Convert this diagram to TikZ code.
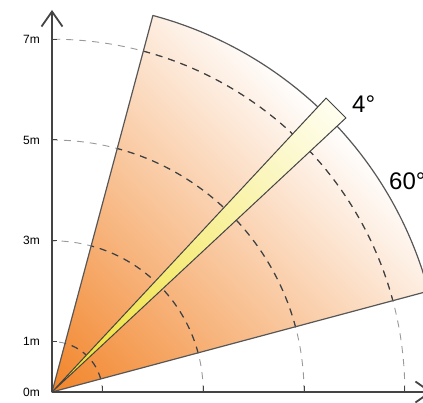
\documentclass[tikz,border=0pt]{standalone}
\usepackage{fontspec}
\setmainfont{Liberation Sans}
\usetikzlibrary{arrows.meta}
\definecolor{axisgray}{HTML}{444444}
\definecolor{orangeA}{HTML}{F28429}
\definecolor{orangeM}{HTML}{F8B888}
\definecolor{beamY}{HTML}{EEDD22}
\definecolor{beamM}{HTML}{FBF49A}
\definecolor{beamP}{HTML}{FFFEF0}
\tikzset{
  axisline/.style={draw=axisgray, line width=1.8pt, -{Straight Barb[length=15pt,width=21pt,line width=1.8pt]}},
  gridarc/.style={dashed, dash pattern=on 7pt off 6pt},
  axislabel/.style={anchor=east, font=\fontsize{12}{14}\selectfont, text=black, inner sep=0pt},
  biglabel/.style={anchor=base west, font=\fontsize{24}{28}\selectfont, text=black, inner sep=0pt},
  outline/.style={draw=axisgray!90, line width=1.2pt, line join=round}
}
\begin{document}
\begin{tikzpicture}[x=1pt,y=1pt]
\useasboundingbox (-52,-10) rectangle (371,392);
\clip (-52,-10) rectangle (371,392);
\def\M{50.4}
\def\R{389.8}
% sector fill (linear gradient along 45 degrees)
\begin{scope}
\clip (0,0) -- (15:\R) arc[start angle=15, end angle=75, radius=\R] -- cycle;
\begin{scope}[transform canvas={rotate=-45}]
\shade[bottom color=orangeA, middle color=orangeM, top color=white] (-300,0) rectangle (300,392);
\end{scope}
\end{scope}
% dashed arcs (outside)
\foreach \r in {1,3,5,7}{
  \draw[gridarc, draw=gray!80, line width=0.9pt] (\r*\M,0) arc[start angle=0, end angle=90, radius=\r*\M];
}
% dashed arcs inside sector, darker
\begin{scope}
\clip (0,0) -- (15:\R) arc[start angle=15, end angle=75, radius=\R] -- cycle;
\foreach \r in {1,3,5,7}{
  \draw[gridarc, draw=black!75, line width=1.2pt] (\r*\M,0) arc[start angle=0, end angle=90, radius=\r*\M];
}
\end{scope}
% sector outline
\draw[outline] (0,0) -- (15:\R) arc[start angle=15, end angle=75, radius=\R] -- cycle;
% beam
\coordinate (O) at (0,0);
\coordinate (b1) at (43:401.9);
\coordinate (b2) at (47:401.9);
\begin{scope}
\clip (O) -- (b1) -- (b2) -- cycle;
\begin{scope}[transform canvas={rotate=-45}]
\shade[bottom color=beamY, middle color=beamM, top color=beamP] (-30,0) rectangle (30,402);
\end{scope}
\end{scope}
\draw[draw=axisgray, line width=1pt, line join=round] (O) -- (b1) -- (b2) -- cycle;
% axes
\coordinate (xend) at (380,0);
\coordinate (yend) at (0,382);
\draw[axisline] (O) -- (xend);
\draw[axisline] (O) -- (yend);
% ticks
\foreach \r in {1,3,5,7}{
  \draw[draw=axisgray, line width=1pt] (\r*\M,0) -- (\r*\M,6);
  \draw[draw=axisgray, line width=1pt] (0,\r*\M) -- (5,\r*\M);
}
% labels
\foreach \r in {0,1,3,5,7}{
  \node[axislabel] (l\r) at (-12,\r*\M) {\r m};
}
\node[biglabel] (a4) at (300,279) {4°};
\node[biglabel] (a60) at (337,202) {60°};
\end{tikzpicture}
\end{document}
